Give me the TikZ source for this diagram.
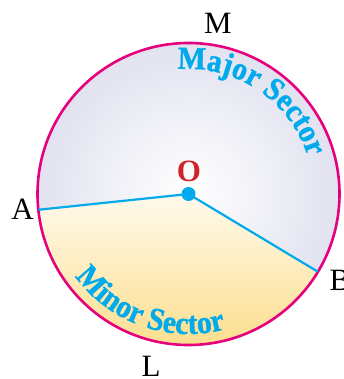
\documentclass[tikz,border=0pt]{standalone}
\usepackage{fontspec}
\setmainfont{Liberation Serif}
\newfontfamily\secfont{Liberation Serif Bold}[FakeStretch=0.93,FakeBold=1.2]
\usetikzlibrary{decorations.text}
\definecolor{rim}{RGB}{230,0,126}
\definecolor{ray}{RGB}{0,170,235}
\definecolor{lav}{RGB}{226,226,240}
\definecolor{cream}{RGB}{255,250,236}
\definecolor{gold}{RGB}{252,222,142}
\definecolor{ored}{RGB}{210,35,42}
\begin{document}
\begin{tikzpicture}[x=1pt,y=1pt,
  lbl/.style={inner sep=0pt, font=\fontsize{31}{31}\selectfont},
  raystyle/.style={draw=ray, line width=2.2pt},
  sectortext/.style={decorate, decoration={text along path, text color=ray, text align=left, text={#1}}}]
\useasboundingbox (-188.5,-185) rectangle (154.5,194);
\coordinate (O) at (0,0);
\coordinate (A) at (186:151);
\coordinate (B) at (-31:151);
% major sector
\begin{scope}
\clip (O) -- (B) arc[start angle=-31, end angle=186, radius=151] -- cycle;
\shade[inner color=white, outer color=lav] (O) circle[radius=151];
\end{scope}
% minor sector
\begin{scope}
\clip (O) -- (A) arc[start angle=186, end angle=329, radius=151] -- cycle;
\shade[top color=cream, bottom color=gold] (-152,0) rectangle (152,-152);
\end{scope}
% sector texts
\path[sectortext={|\secfont\fontsize{32}{32}\selectfont|Major Sector}] (95:125) arc[start angle=95, end angle=5, radius=125];
\path[sectortext={|\secfont\fontsize{32}{32}\selectfont|Minor Sector}] (216:140) arc[start angle=216, end angle=305, radius=140];
% rim
\node (circ) [circle, draw=rim, line width=2.6pt, minimum size=302pt, inner sep=0pt] at (O) {};
% radii
\draw[raystyle] (A) -- (O) -- (B);
\node (dot) [circle, fill=ray, minimum size=14pt, inner sep=0pt] at (O) {};
% labels
\node[lbl] (M) at (29.5,171) {M};
\node[lbl] (Al) at (-166,-15) {A};
\node[lbl] (Bl) at (151.5,-86) {B};
\node[lbl] (L) at (-37.5,-172.5) {L};
\node[inner sep=0pt, font=\bfseries\fontsize{31}{31}\selectfont, text=ored] (Ol) at (0.5,23) {O};
\end{tikzpicture}
\end{document}
